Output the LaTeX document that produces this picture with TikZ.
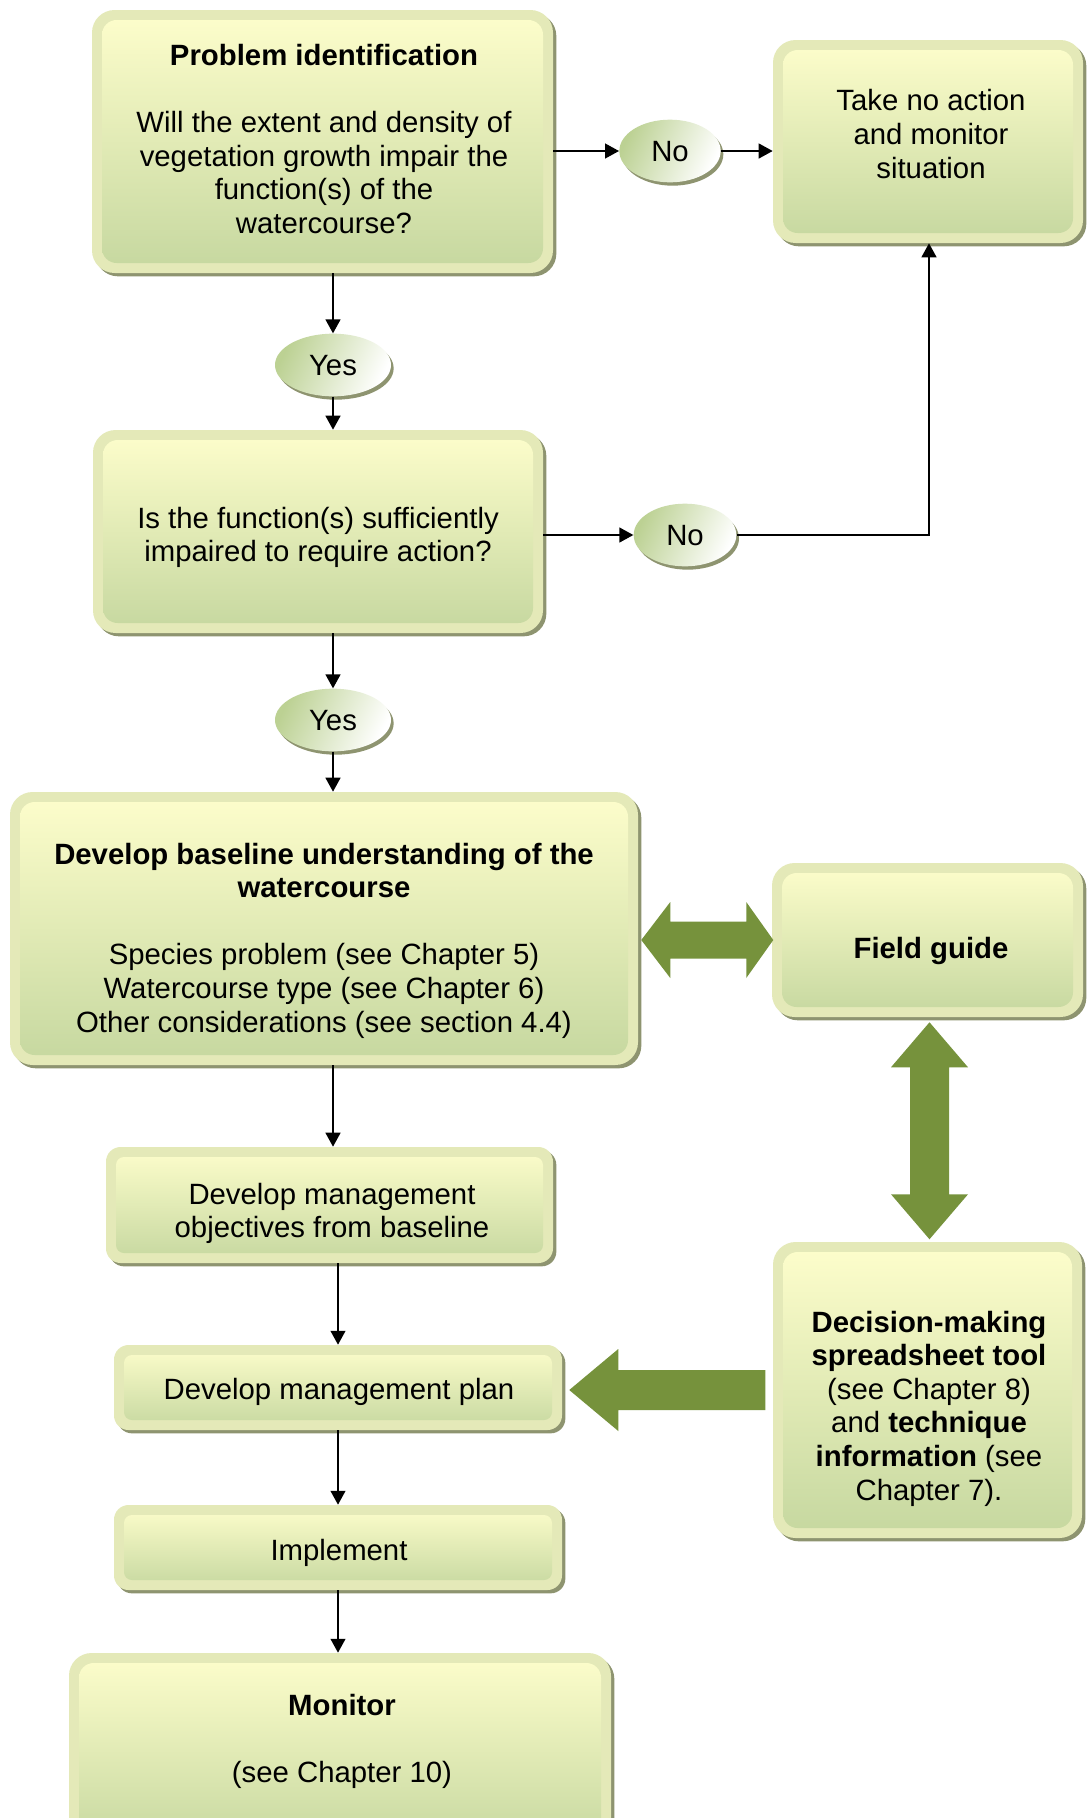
\documentclass[tikz,border=0pt]{standalone}
\usepackage{fontspec}
\setmainfont{Liberation Sans}
\usetikzlibrary{shapes.geometric,arrows.meta,calc}
\definecolor{rimc}{HTML}{E4E9B8}
\definecolor{topc}{HTML}{FEFECC}
\definecolor{botc}{HTML}{C5D79F}
\definecolor{shadc}{HTML}{8E9470}
\definecolor{arrowg}{HTML}{76923C}
\definecolor{ellg}{HTML}{BCD193}
\newcommand\fs{\fontsize{22}{25.2}\selectfont}
\tikzset{
  boxbase/.style={rectangle, inner sep=0pt, fill=rimc, draw=none,
    preaction={fill=shadc, transform canvas={xshift=2.5pt,yshift=-2.5pt}}},
  bigbox/.style={boxbase, rounded corners=17pt,
    path picture={\shade[top color=topc, bottom color=botc, rounded corners=11pt]
      ([shift={(7.5pt,-7.5pt)}]path picture bounding box.north west) rectangle
      ([shift={(-7.5pt,7.5pt)}]path picture bounding box.south east);}},
  smallbox/.style={boxbase, rounded corners=11pt,
    path picture={\shade[top color=topc, bottom color=botc, rounded corners=6pt]
      ([shift={(7.5pt,-7.5pt)}]path picture bounding box.north west) rectangle
      ([shift={(-7.5pt,7.5pt)}]path picture bounding box.south east);}},
  yn/.style={ellipse, inner sep=0pt, minimum height=47pt, font=\fs,
    text depth=0pt, text height=16pt,
    top color=ellg, bottom color=white, shading angle=65,
    preaction={fill=shadc, transform canvas={xshift=2pt,yshift=-2.5pt}}},
  txt/.style={align=center, font=\fs, inner sep=0pt},
  conn/.style={line width=1.7pt, -{Triangle[length=10.5pt,width=11pt]}},
  fat/.style={fill=arrowg, draw=none}
}
\begin{document}
\begin{tikzpicture}[x=0.75pt,y=-0.75pt]
\useasboundingbox (0,0) rectangle (1086,1818);
\fill[white] (0,0) rectangle (1086,1818);

% boxes
\node[bigbox, minimum width=345.75pt, minimum height=197.25pt] (b1) at (322.5,141.5) {};
\node[bigbox, minimum width=232.5pt, minimum height=152.25pt] (b2) at (928,141.5) {};
\node[bigbox, minimum width=337.5pt, minimum height=152.25pt] (b3) at (318,531.5) {};
\node[bigbox, minimum width=471pt, minimum height=204.75pt] (b4) at (324,928.5) {};
\node[bigbox, minimum width=233.25pt, minimum height=115.5pt] (fg) at (927.5,940) {};
\node[smallbox, minimum width=335.25pt, minimum height=87pt] (b5) at (329.5,1205) {};
\node[smallbox, minimum width=336pt, minimum height=63.75pt] (b6) at (338,1387.5) {};
\node[bigbox, minimum width=231.75pt, minimum height=222pt] (dec) at (927.5,1390) {};
\node[smallbox, minimum width=336pt, minimum height=63.75pt] (b8) at (338,1547.5) {};
\node[bigbox, minimum width=406.5pt, minimum height=147.75pt] (b9) at (340,1751.5) {};

% texts
\node[txt] (t1) at (324,139) {\textbf{Problem identification}\\[25.2pt]Will the extent and density of\\vegetation growth impair the\\function(s) of the\\watercourse?};
\node[txt] (t2) at (931,134) {Take no action\\and monitor\\situation};
\node[txt] (t3) at (318,537.5) {Is the function(s) sufficiently\\impaired to require action?};
\node[txt] (t4) at (324,940.5) {\textbf{Develop baseline understanding of the}\\\textbf{watercourse}\\[25.2pt]Species problem (see Chapter 5)\\Watercourse type (see Chapter 6)\\Other considerations (see section 4.4)};
\node[txt] (tfg) at (931,951) {\textbf{Field guide}};
\node[txt] (t5) at (332,1213.5) {Develop management\\objectives from baseline};
\node[txt] (t6) at (339,1391.5) {Develop management plan};
\node[txt] (tdec) at (929,1408.5) {\textbf{Decision-making}\\\textbf{spreadsheet tool}\\(see Chapter 8)\\and \textbf{technique}\\\textbf{information} (see\\Chapter 7).};
\node[txt] (t8) at (339,1552.5) {Implement};
\node[txt] (t9) at (342,1741.5) {\textbf{Monitor}\\[25.2pt](see Chapter 10)};

% yes / no ellipses
\node[yn, minimum width=76pt] (no1) at (670,151) {No};
\node[yn, minimum width=87pt] (yes1) at (333,365) {Yes};
\node[yn, minimum width=77pt] (no2) at (685,535) {No};
\node[yn, minimum width=87pt] (yes2) at (333,720) {Yes};

% connectors
\draw[conn] (b1.east |- no1) -- (no1.west);
\draw[conn] (no1.east) -- (b2.west |- no1);
\draw[conn] (yes1 |- b1.south) -- (yes1.north);
\draw[conn] (yes1.south) -- (yes1 |- b3.north);
\draw[conn] (b3.east |- no2) -- (no2.west);
\coordinate (turn) at (929,535);
\draw[conn] (no2.east) -- (turn) -- (turn |- b2.south);
\draw[conn] (yes2 |- b3.south) -- (yes2.north);
\draw[conn] (yes2.south) -- (yes2 |- b4.north);
\draw[conn] (yes2 |- b4.south) -- (yes2 |- b5.north);
\draw[conn] (b6 |- b5.south) -- (b6.north);
\draw[conn] (b6.south) -- (b8.north);
\draw[conn] (b8.south) -- (b8 |- b9.north);

% fat green arrows
\fill[fat] ($(b4.east |- fg)+(3,0)$) -- ++(29,-38) -- ++(0,19.5) -- ++(76,0) -- ++(0,-19.5)
  -- ++(27,38) -- ++(-27,38) -- ++(0,-19.5) -- ++(-76,0) -- ++(0,19.5) -- cycle;
\fill[fat] ($(fg.south)+(2,5)$) -- ++(38.5,45) -- ++(-19,0) -- ++(0,127) -- ++(19,0)
  -- ++(-38.5,45) -- ++(-38.5,-45) -- ++(19,0) -- ++(0,-127) -- ++(-19,0) -- cycle;
\fill[fat] ($(b6.east |- dec)+(7,0)$) -- ++(49,-41) -- ++(0,21) -- ++(147,0) -- ++(0,40)
  -- ++(-147,0) -- ++(0,21) -- cycle;
\end{tikzpicture}
\end{document}
